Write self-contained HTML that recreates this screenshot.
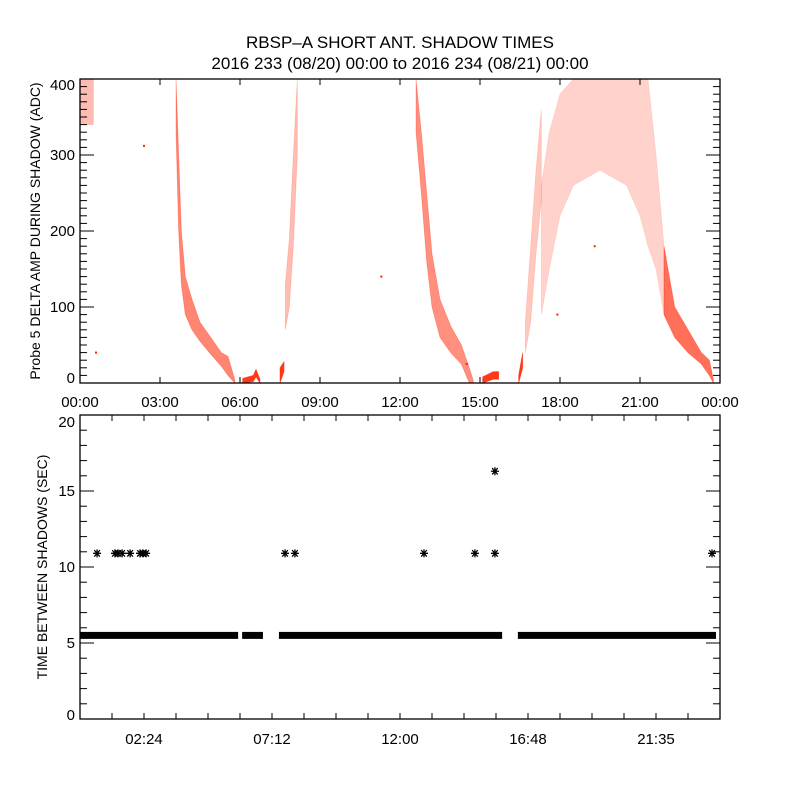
<!DOCTYPE html>
<html><head><meta charset="utf-8">
<style>
html,body{margin:0;padding:0;background:#fff;}
svg{display:block;font-family:"Liberation Sans",sans-serif;}
text{fill:#000;}
</style></head>
<body>
<svg id="chart" width="800" height="800" viewBox="0 0 800 800">
<text x="400" y="48" font-size="17" text-anchor="middle">RBSP–A SHORT ANT. SHADOW TIMES</text>
<text x="400" y="69" font-size="17" text-anchor="middle">2016 233 (08/20) 00:00 to 2016 234 (08/21) 00:00</text>
<text transform="translate(40,231) rotate(-90)" font-size="14" text-anchor="middle">Probe 5 DELTA AMP DURING SHADOW (ADC)</text>
<text transform="translate(47,567) rotate(-90)" font-size="14" text-anchor="middle">TIME BETWEEN SHADOWS (SEC)</text>
<g id="topPanel"></g>
<g id="botPanel"></g>
</svg>
<script>
// ---- top panel data: bands of [hour, low, high] ----
const bandStart=[[0,340,400],[0.5,340,400]];
const bandDescA=[[3.6,330,400],[3.7,200,300],[3.8,130,200],[3.95,90,140],[4.2,70,110],[4.5,55,80],[4.9,38,60],[5.3,22,40],[5.55,10,35],[5.8,0,5]];
const bandHumpA=[[6.1,0,6],[6.5,2,10],[6.6,8,18],[6.75,0,5]];
const bandSpikeA=[[7.5,0,20],[7.65,15,28]];
const bandRiseA=[[7.7,70,130],[7.85,100,190],[8.0,180,300],[8.15,300,400]];
const bandDescB=[[12.6,330,400],[12.8,250,330],[13.0,160,250],[13.2,100,170],[13.5,60,110],[13.9,40,75],[14.3,25,50],[14.6,0,20],[14.75,0,3]];
const bandHumpB=[[15.1,0,8],[15.5,5,15],[15.7,5,15]];
const bandSpikeB=[[16.45,0,10],[16.6,20,40]];
const bandRiseB=[[16.7,40,80],[16.9,80,180],[17.1,170,280],[17.3,240,360]];
const bandDome=[[17.3,90,260],[17.6,150,330],[18.0,220,380],[18.5,260,400],[19.5,280,400],[20.5,260,400],[21.0,220,400],[21.3,180,400],[21.6,150,300],[21.9,90,180]];
const bandDescC=[[21.9,90,180],[22.3,60,100],[22.8,40,70],[23.3,25,40],[23.6,10,30],[23.75,0,5]];
const topBands=[bandStart,bandDescA,bandHumpA,bandSpikeA,bandRiseA,bandDescB,bandHumpB,bandSpikeB,bandRiseB,bandDome,bandDescC];
const topBandNames=['band-start','band-descent-1','band-hump-1','band-spike-1','band-rise-1','band-descent-2','band-hump-2','band-spike-2','band-rise-2','band-dome','band-descent-3'];
const topOpacity=[0.3,0.55,0.9,0.9,0.3,0.5,0.9,0.9,0.25,0.2,0.65];
const topLoneHours=[0.6,2.4,11.3,14.5,17.9,19.3];
const topLoneVals=[40,312,140,25,90,180];
const topXTicks=['00:00','03:00','06:00','09:00','12:00','15:00','18:00','21:00','00:00'];
const topYTicks=[0,100,200,300,400];
// ---- bottom panel data ----
const bandSegStart=[0,6.08,7.46,16.42];
const bandSegEnd=[5.93,6.86,15.83,23.85];
const bandValue=5.5;
const outHours=[0.64,1.31,1.43,1.58,1.88,2.25,2.36,2.48,7.69,8.06,12.9,14.81,15.56,15.56,23.7];
const outVals=[10.9,10.9,10.9,10.9,10.9,10.9,10.9,10.9,10.9,10.9,10.9,10.9,10.9,16.3,10.9];
const botXTicks=['02:24','07:12','12:00','16:48','21:35'];
const botYTicks=[0,5,10,15,20];

const NS='http://www.w3.org/2000/svg';
const X0=80,X1=720;
const xs=h=>X0+h/24*(X1-X0);
const T0=79,T1=383,B0=415,B1=719;
const yTop=v=>T1-v/400*(T1-T0);
const yBot=v=>B1-v/20*(B1-B0);
function mk(p,tag,a){const e=document.createElementNS(NS,tag);for(const k in a)e.setAttribute(k,a[k]);p.appendChild(e);return e;}
const gTop=document.getElementById('topPanel'),gBot=document.getElementById('botPanel');

topBands.forEach((b,i)=>{
  const pts=b.map(d=>xs(d[0])+','+yTop(d[2])).concat(b.slice().reverse().map(d=>xs(d[0])+','+yTop(d[1])));
  const p=mk(gTop,'polygon',{points:pts.join(' '),fill:'#ff2200','fill-opacity':topOpacity[i],stroke:'#ff2200','stroke-opacity':topOpacity[i]*0.6,'stroke-width':0.8});
  
  
});
topLoneHours.forEach((h,i)=>{
  const r=mk(gTop,'rect',{x:xs(h)-1,y:yTop(topLoneVals[i])-1,width:2,height:2,fill:'#ff2200'});
  
  
});
const tf=mk(gTop,'rect',{x:X0,y:T0,width:X1-X0,height:T1-T0,fill:'none',stroke:'#000','stroke-width':1.3});


topXTicks.forEach((t,i)=>{
  const x=xs(i*3);
  mk(gTop,'line',{x1:x,y1:T1,x2:x,y2:T1-6,stroke:'#000'});
  mk(gTop,'line',{x1:x,y1:T0,x2:x,y2:T0+6,stroke:'#000'});
  const l=mk(gTop,'text',{x:x,y:407,'font-size':15,'text-anchor':'middle'});l.textContent=t;
  
  
});
for(let v=0;v<=400;v+=10){
  const y=yTop(v),len=(v%100===0)?14:7;
  mk(gTop,'line',{x1:X0,y1:y,x2:X0+len,y2:y,stroke:'#000'});
  mk(gTop,'line',{x1:X1,y1:y,x2:X1-len,y2:y,stroke:'#000'});
}
topYTicks.forEach(v=>{
  const y=Math.min(Math.max(yTop(v),85),378);
  const l=mk(gTop,'text',{x:75,y:y+5,'font-size':15,'text-anchor':'end'});l.textContent=v;
  
  
});

bandSegStart.forEach((s,i)=>{
  const r=mk(gBot,'rect',{x:xs(s),y:yBot(bandValue)-3.5,width:xs(bandSegEnd[i])-xs(s),height:7,fill:'#000'});
  
  
});
outHours.forEach((h,i)=>{
  const cx=xs(h),cy=yBot(outVals[i]),r=4;
  const d=`M${cx-r},${cy}H${cx+r}M${cx-r*0.7},${cy-r*0.8}L${cx+r*0.7},${cy+r*0.8}M${cx-r*0.7},${cy+r*0.8}L${cx+r*0.7},${cy-r*0.8}M${cx},${cy-r}V${cy+r}`;
  const p=mk(gBot,'path',{d:d,stroke:'#000','stroke-width':1.3,fill:'none'});
  
  
});
const bf=mk(gBot,'rect',{x:X0,y:B0,width:X1-X0,height:B1-B0,fill:'none',stroke:'#000','stroke-width':1.3});


for(let k=1;k<20;k++){
  const x=xs(k*1.2);
  mk(gBot,'line',{x1:x,y1:B1,x2:x,y2:B1-6,stroke:'#000'});
  mk(gBot,'line',{x1:x,y1:B0,x2:x,y2:B0+6,stroke:'#000'});
}
botXTicks.forEach((t,i)=>{
  const l=mk(gBot,'text',{x:xs((i+0.5)*4.8),y:744,'font-size':15,'text-anchor':'middle'});l.textContent=t;
  
  
});
for(let v=0;v<=20;v++){
  const y=yBot(v),len=(v%5===0)?14:7;
  mk(gBot,'line',{x1:X0,y1:y,x2:X0+len,y2:y,stroke:'#000'});
  mk(gBot,'line',{x1:X1,y1:y,x2:X1-len,y2:y,stroke:'#000'});
}
botYTicks.forEach(v=>{
  const y=Math.min(Math.max(yBot(v),422),715);
  const l=mk(gBot,'text',{x:75,y:y+5,'font-size':15,'text-anchor':'end'});l.textContent=v;
  
  
});
</script>
</body></html>
